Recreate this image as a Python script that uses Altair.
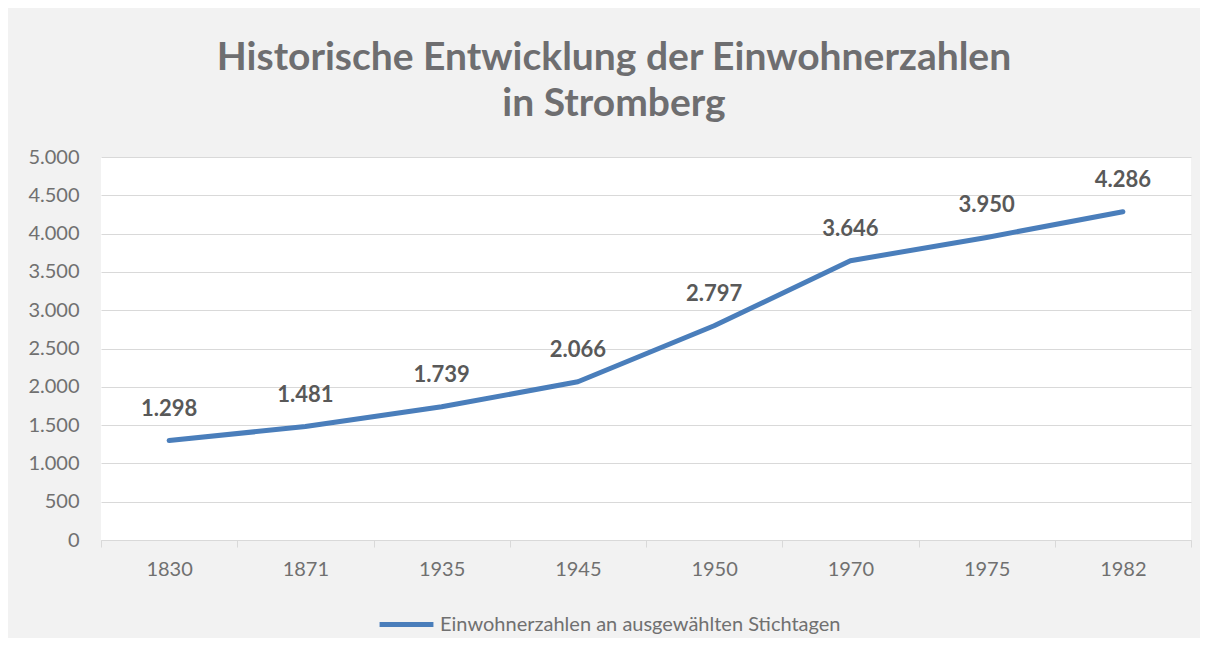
import altair as alt
import pandas as pd

years = ["1830", "1871", "1935", "1945", "1950", "1970", "1975", "1982"]
population = [1298, 1481, 1739, 2066, 2797, 3646, 3950, 4286]
series_name = "Einwohnerzahlen an ausgewählten Stichtagen"
y_ticks = [0, 500, 1000, 1500, 2000, 2500, 3000, 3500, 4000, 4500, 5000]

df = pd.DataFrame({"Jahr": years, "Einwohner": population, "Reihe": [series_name] * len(years)})

FONT = "Lato"
LINE_COLOR = "#4a7ebb"

x_enc = alt.X(
    "Jahr:N",
    sort=years,
    title=None,
    scale=alt.Scale(paddingInner=0, paddingOuter=0),
    axis=alt.Axis(
        labelAngle=0,
        labelFontSize=20,
        labelColor="#707070",
        labelFont=FONT,
        labelPadding=12,
        tickBand="extent",
        tickColor="#d9d9d9",
        tickSize=7,
        domainColor="#d9d9d9",
        grid=False,
    ),
)

y_enc = alt.Y(
    "Einwohner:Q",
    title=None,
    scale=alt.Scale(domain=[0, 5000], nice=False),
    axis=alt.Axis(
        values=y_ticks,
        labelExpr="replace(format(datum.value, ','), ',', '.')",
        labelOverlap=False,
        labelFontSize=20,
        labelColor="#707070",
        labelFont=FONT,
        labelPadding=22,
        ticks=False,
        domain=False,
        gridColor="#d9d9d9",
        gridWidth=1,
    ),
)

line = alt.Chart(df).mark_line(strokeWidth=5, strokeCap="round", strokeJoin="round").encode(
    x=x_enc,
    y=y_enc,
    color=alt.Color(
        "Reihe:N",
        scale=alt.Scale(range=[LINE_COLOR]),
        legend=alt.Legend(
            title=None,
            orient="none",
            legendX=276,
            legendY=438,
            symbolType="stroke",
            symbolSize=2900,
            symbolStrokeWidth=5,
            symbolStrokeColor=LINE_COLOR,
            labelFontSize=20,
            labelFont=FONT,
            labelColor="#707070",
            labelOffset=4,
            labelLimit=0,
            padding=0,
        ),
    ),
)

labels = alt.Chart(df).transform_calculate(
    txt="replace(format(datum.Einwohner, ','), ',', '.')"
).mark_text(
    dy=-32, fontSize=22, fontWeight="bold", font=FONT, color="#595959", baseline="middle"
).encode(x=x_enc, y=y_enc, text="txt:N")

chart = alt.layer(line, labels).properties(
    width=1090,
    height=383,
    autosize=alt.AutoSizeParams(type="none"),
    padding={"left": 93, "top": 149, "right": 9, "bottom": 98},
    background="#f2f2f2",
    title=alt.TitleParams(
        text=["Historische Entwicklung der Einwohnerzahlen", "in Stromberg"],
        fontSize=39,
        fontWeight="bold",
        font=FONT,
        color="#6e6e70",
        anchor="middle",
        dx=-32,
        offset=23,
        lineHeight=46,
    ),
).configure_view(fill="white", stroke=None)

chart.save("out.html", embed_options={"renderer": "svg", "actions": False})
